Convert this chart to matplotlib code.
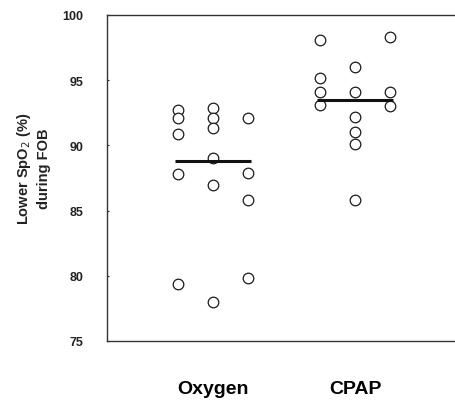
import matplotlib
matplotlib.use("Agg")
import matplotlib.pyplot as plt

categories = ["Oxygen", "CPAP"]
# values per sub-column (left, middle, right) for each group
oxygen_cols = [
    [92.7, 92.1, 90.9, 87.8, 79.4],
    [92.9, 92.1, 91.3, 89.0, 87.0, 78.0],
    [92.1, 87.9, 85.8, 79.8],
]
cpap_cols = [
    [98.1, 95.2, 94.1, 93.1],
    [96.0, 94.1, 92.2, 91.0, 90.1, 85.8],
    [98.3, 94.1, 93.0],
]
group_lines = [88.8, 93.5]
yticks = [75, 80, 85, 90, 95, 100]

fig = plt.figure(figsize=(4.56, 4.02), dpi=100)
ax = fig.add_axes([107/456, 1 - 342/402, 1 - 107/456, (342 - 16)/402])

offsets = [-0.246, 0.0, 0.246]
for gi, cols in enumerate([oxygen_cols, cpap_cols]):
    center = gi + 1
    for off, vals in zip(offsets, cols):
        ax.scatter([center + off] * len(vals), vals, s=58, facecolors="white",
                   edgecolors="#1a1a1a", linewidths=0.9, zorder=3)
    ax.hlines(group_lines[gi], center - 0.27, center + 0.27, colors="#111111",
              linewidth=2.2, zorder=4)

ax.set_xlim(0.254, 2.711)
ax.set_ylim(75, 100)
ax.set_yticks(yticks)
ax.set_yticklabels([str(t) for t in yticks], fontsize=9, fontweight="bold",
                   family="Liberation Sans")
ax.tick_params(axis="y", direction="in", length=1.5, width=0.8, pad=17,
               colors="#222222")
ax.set_xticks([1, 2])
ax.set_xticklabels(categories, fontsize=14, fontweight="bold",
                   family="Liberation Sans")
ax.tick_params(axis="x", length=0, pad=28)

for s in ["right"]:
    ax.spines[s].set_visible(False)
for s in ["top", "bottom", "left"]:
    ax.spines[s].set_color("#333333")
    ax.spines[s].set_linewidth(1.0)

fig.text(33/456, 1 - 169/402, "Lower SpO$_2$ (%)\nduring FOB", rotation=90,
         ha="center", va="center", fontsize=10.5, fontweight="bold",
         family="Liberation Sans", color="#222222", linespacing=1.3)

fig.savefig("out.png", dpi=100)
